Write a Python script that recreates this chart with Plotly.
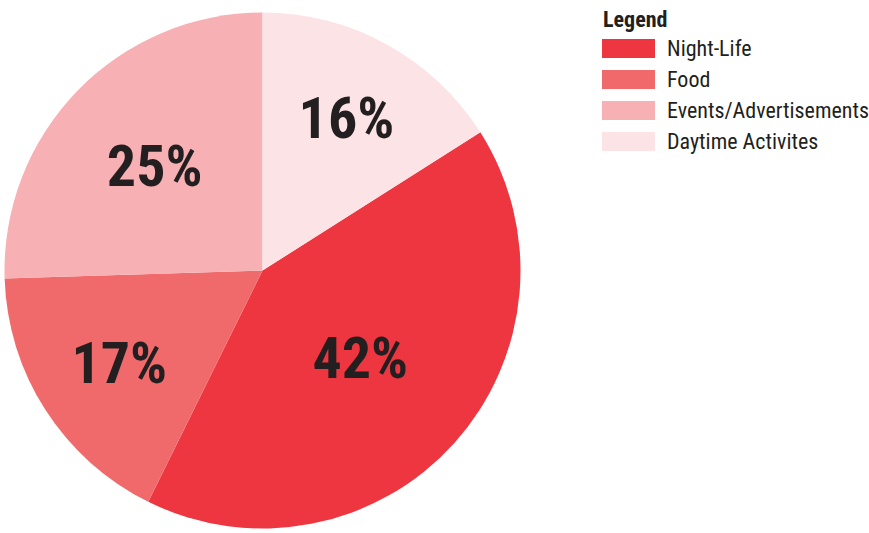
import plotly.graph_objects as go

categories = ["Night-Life", "Food", "Events/Advertisements", "Daytime Activites"]
slice_values = [41.3, 17.2, 25.5, 16.0]
# printed labels
label_texts = ["42%", "17%", "25%", "16%"]
colors = ["#EE3640", "#F06A6C", "#F7B0B3", "#FCE4E6"]
legend_title = "Legend"

W, H = 869, 533
FONT = "Liberation Sans Narrow, Roboto Condensed, Arial Narrow, sans-serif"

fig = go.Figure()
fig.add_trace(go.Pie(
    labels=categories,
    values=slice_values,
    text=label_texts,
    marker=dict(colors=colors, line=dict(width=0)),
    sort=False,
    direction="clockwise",
    rotation=57.6,
    texttemplate="<b>%{text}</b>",
    textposition="inside",
    insidetextorientation="horizontal",
    textfont=dict(family=FONT, size=58, color="#231F20"),
    domain=dict(x=[4.5 / W, 520.5 / W], y=[1 - 529 / H, 1 - 12 / H]),
    showlegend=False,
    hoverinfo="label+text",
))

# custom legend (swatches + labels)
shapes = []
annotations = [dict(
    x=601 / W, y=1 - 19 / H, xref="paper", yref="paper",
    text="<b>" + legend_title + "</b>", showarrow=False,
    xanchor="left", yanchor="middle",
    font=dict(family=FONT, size=22, color="#231F20"),
)]
for i, (cat, col) in enumerate(zip(categories, colors)):
    top = 39 + i * 31
    shapes.append(dict(
        type="rect", xref="paper", yref="paper",
        x0=602 / W, x1=655 / W, y0=1 - (top + 19) / H, y1=1 - top / H,
        fillcolor=col, line=dict(width=0),
    ))
    annotations.append(dict(
        x=665 / W, y=1 - (top + 9.5) / H, xref="paper", yref="paper",
        text=cat, showarrow=False, xanchor="left", yanchor="middle",
        font=dict(family=FONT, size=22, color="#231F20"),
    ))

fig.update_layout(
    width=W, height=H,
    margin=dict(l=0, r=0, t=0, b=0),
    paper_bgcolor="white", plot_bgcolor="white",
    shapes=shapes, annotations=annotations,
    uniformtext=dict(minsize=58, mode="show"),
)

fig.write_html("out.html", config={"displayModeBar": False},
               post_script="document.body.style.margin='0';")
